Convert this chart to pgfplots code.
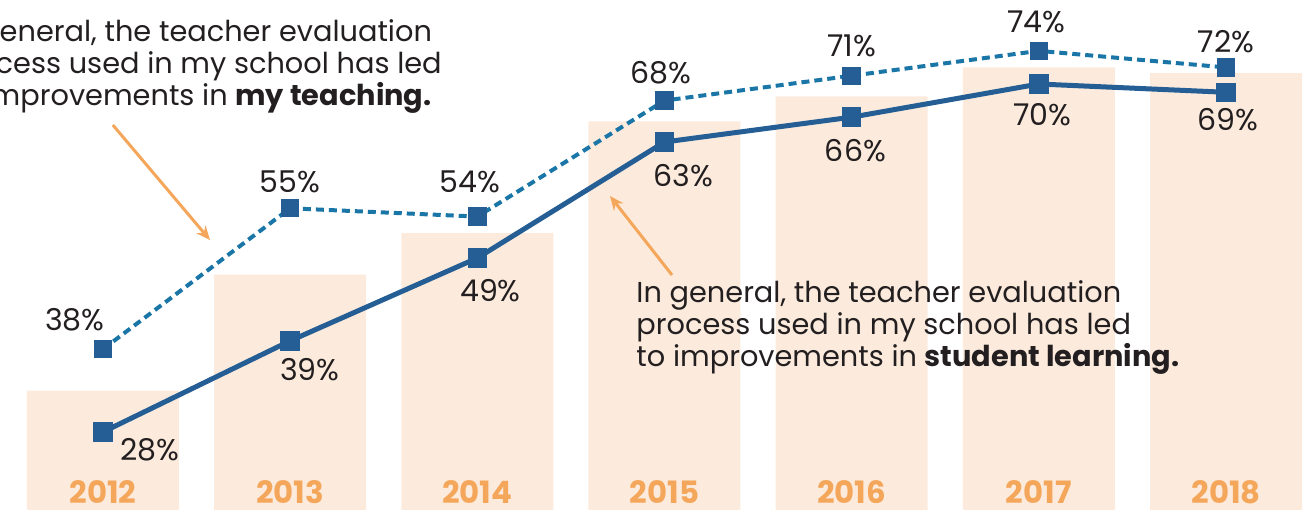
\documentclass[border=0pt]{standalone}
\usepackage{pgfplots}
\pgfplotsset{compat=1.18}
\usepackage{fontspec}
\setmainfont{Poppins}
\usetikzlibrary{arrows.meta}
\definecolor{peach}{HTML}{FCEBDD}
\definecolor{orng}{HTML}{F4A65A}
\definecolor{navy}{HTML}{245E94}
\definecolor{tealb}{HTML}{1B76A8}
\definecolor{txt}{HTML}{231F20}
\begin{document}
\begin{tikzpicture}
\begin{axis}[
  width=652.5pt, height=255pt, scale only axis,
  hide axis,
  xmin=2011.45, xmax=2018.422, ymin=18.59, ymax=80.14,
]
% background bars
\addplot[ybar, fill=peach, draw=none, bar width=0.812] coordinates {
 (2012,33) (2013,47) (2014,52) (2015,65.5) (2016,68.5) (2017,72) (2018,71.3)};
% my teaching (dotted)
\addplot[tealb, line width=2pt, dash pattern=on 4pt off 2.5pt,
  mark=square*, mark size=3.6pt, mark options={solid, fill=navy, draw=navy}] coordinates {
 (2012,38) (2013,55) (2014,54) (2015,68) (2016,71) (2017,74) (2018,72)};
% student learning (solid)
\addplot[navy, line width=2.5pt,
  mark=square*, mark size=3.6pt, mark options={solid, fill=navy, draw=navy}] coordinates {
 (2012,28) (2013,39) (2014,49) (2015,63) (2016,66) (2017,70) (2018,69)};

% arrows
\draw[orng, line width=1.5pt, -{Stealth[length=7pt,width=6pt]}] (axis cs:2012.053,65.05) -- (axis cs:2012.572,51.17);
\draw[orng, line width=1.5pt, -{Stealth[length=7pt,width=6pt]}] (axis cs:2015.040,46.95) -- (axis cs:2014.709,56.48);

% labels
\begin{scope}[every node/.style={font=\fontsize{15}{17}\selectfont, text=txt, inner sep=0pt}]
\node at (axis cs:2011.85,41.5) {38\%};
\node at (axis cs:2013.00,58.2) {55\%};
\node at (axis cs:2013.96,58.2) {54\%};
\node at (axis cs:2014.98,71.4) {68\%};
\node at (axis cs:2016.00,74.6) {71\%};
\node at (axis cs:2016.985,77.5) {74\%};
\node at (axis cs:2018.00,75.1) {72\%};
\node at (axis cs:2012.25,25.8) {28\%};
\node at (axis cs:2013.106,35.5) {39\%};
\node at (axis cs:2014.07,45.1) {49\%};
\node at (axis cs:2015.10,59.0) {63\%};
\node at (axis cs:2016.02,62.0) {66\%};
\node at (axis cs:2017.02,66.3) {70\%};
\node at (axis cs:2018.01,65.7) {69\%};
\end{scope}

% years
\begin{scope}[every node/.style={font=\fontsize{15.4}{17}\selectfont\bfseries, text=orng, inner sep=0pt}]
\node at (axis cs:2012,20.7) {2012};
\node at (axis cs:2013,20.7) {2013};
\node at (axis cs:2014,20.7) {2014};
\node at (axis cs:2015,20.7) {2015};
\node at (axis cs:2016,20.7) {2016};
\node at (axis cs:2017,20.7) {2017};
\node at (axis cs:2018,20.7) {2018};
\end{scope}

% annotations
\node[overlay, anchor=north west, align=left, inner sep=0pt, text=txt,
  font=\fontsize{14.4}{16}\selectfont] at (axis cs:2011.165,77.8)
  {In general, the teacher evaluation\\process used in my school has led\\to improvements in \textbf{my teaching.}};
\node[overlay, anchor=north west, align=left, inner sep=0pt, text=txt,
  font=\fontsize{14.4}{16}\selectfont] at (axis cs:2014.848,46.3)
  {In general, the teacher evaluation\\process used in my school has led\\to improvements in \textbf{student learning.}};
\end{axis}
\pgfresetboundingbox
\path[use as bounding box] (current axis.south west) rectangle (current axis.north east);
\end{tikzpicture}
\end{document}
